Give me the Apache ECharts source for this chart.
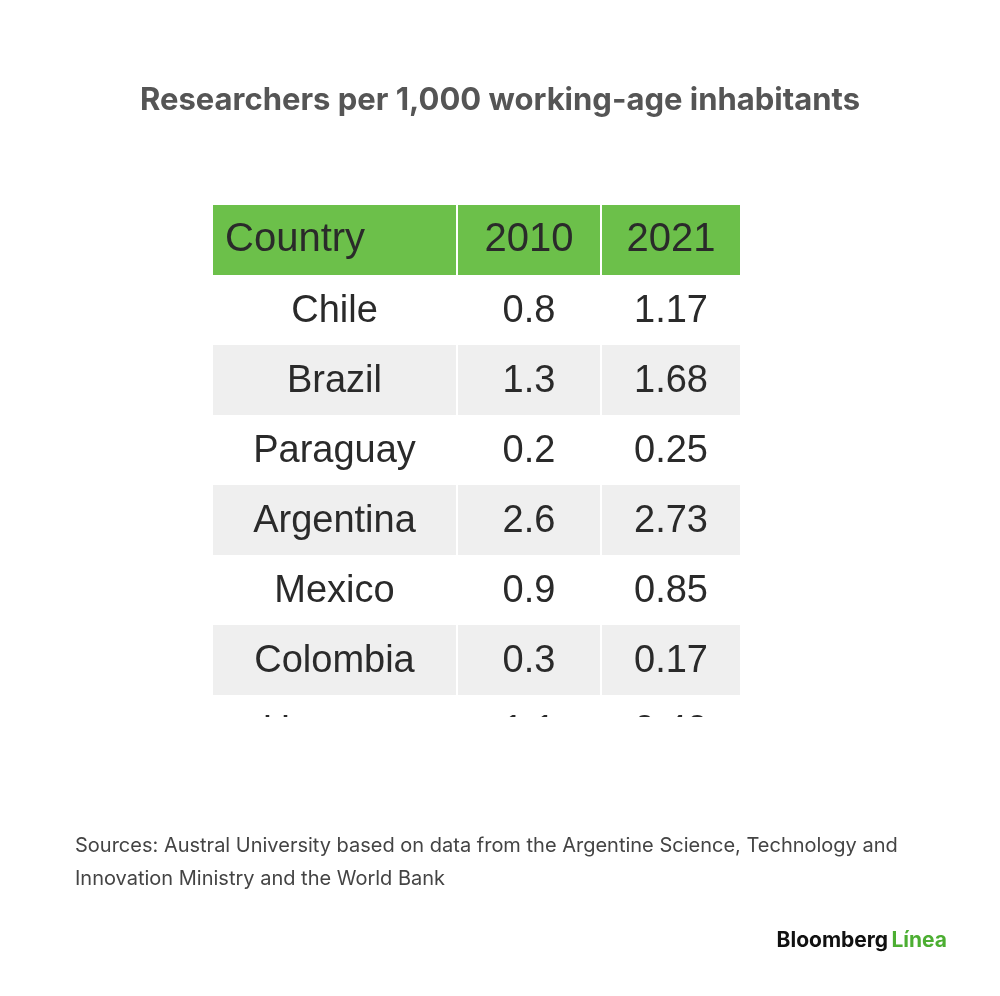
<!DOCTYPE html>
<html><head><meta charset="utf-8">
<script src="https://cdn.jsdelivr.net/npm/echarts@6/dist/echarts.min.js"></script>
<style>html,body{margin:0;background:#fff}#c{width:1000px;height:996px}</style>
</head><body><div id="c"></div>
<script>
var headers=['Country','2010','2021'];
var countries=['Chile','Brazil','Paraguay','Argentina','Mexico','Colombia','Uruguay'];
var v2010=['0.8','1.3','0.2','2.6','0.9','0.3','1.1'];
var v2021=['1.17','1.68','0.25','2.73','0.85','0.17','0.49'];

// column edges in grid units (px-like), style only
var colEdges=[0,245,389,527];
var rowH=70;

var cells=[];
cells.push([0,0,headers[0]],[1,0,headers[1]],[2,0,headers[2]]);
countries.forEach(function(c,i){
  cells.push([0,i+1,c],[1,i+1,v2010[i]],[2,i+1,v2021[i]]);
});

var chart=echarts.init(document.getElementById('c'));
chart.setOption({
  animation:false,
  title:{text:'Researchers per 1,000 working-age inhabitants',left:'center',top:80,
    textStyle:{fontFamily:'Inter',fontSize:31,fontWeight:'bold',color:'#555',letterSpacing:-0.6}},
  grid:{left:213,top:205,width:527,height:512},
  xAxis:{type:'value',min:0,max:527,show:false},
  yAxis:{type:'value',min:0,max:512,inverse:true,show:false},
  series:[{
    type:'custom',clip:true,data:cells,
    renderItem:function(params,api){
      var col=api.value(0),row=api.value(1),txt=cells[params.dataIndex][2];
      var p0=api.coord([colEdges[col],row*rowH]);
      var p1=api.coord([colEdges[col+1],(row+1)*rowH]);
      var fill=row===0?'#6cc04a':(row%2===0?'#efefef':'#fff');
      var gap=col<2?2:0;
      var header=row===0;
      return {type:'group',children:[
        {type:'rect',shape:{x:p0[0],y:p0[1],width:p1[0]-p0[0]-gap,height:p1[1]-p0[1]},style:{fill:fill}},
        {type:'text',style:{text:txt,
          x:header&&col===0?p0[0]+12:(p0[0]+p1[0]-gap)/2,
          y:(p0[1]+p1[1])/2+(header?0:2),
          align:header&&col===0?'left':'center',verticalAlign:'middle',
          font:'400 '+(header?40:38)+'px "Liberation Sans"',fill:'#2a2a2a'}}
      ]};
    }
  }],
  graphic:[
    {type:'text',left:75,top:829,style:{text:'Sources: Austral University based on data from the Argentine Science, Technology and\nInnovation Ministry and the World Bank',
      font:'20px Inter',fill:'#444',lineHeight:33,letterSpacing:-0.75}},
    {type:'text',right:53,top:930,style:{text:'{a|Bloomberg} {b|Línea}',
      rich:{a:{font:'bold 21px Inter',fill:'#111',color:'#111'},b:{font:'bold 21px Inter',fill:'#4cae32',color:'#4cae32'}}}}
  ]
});
</script></body></html>
